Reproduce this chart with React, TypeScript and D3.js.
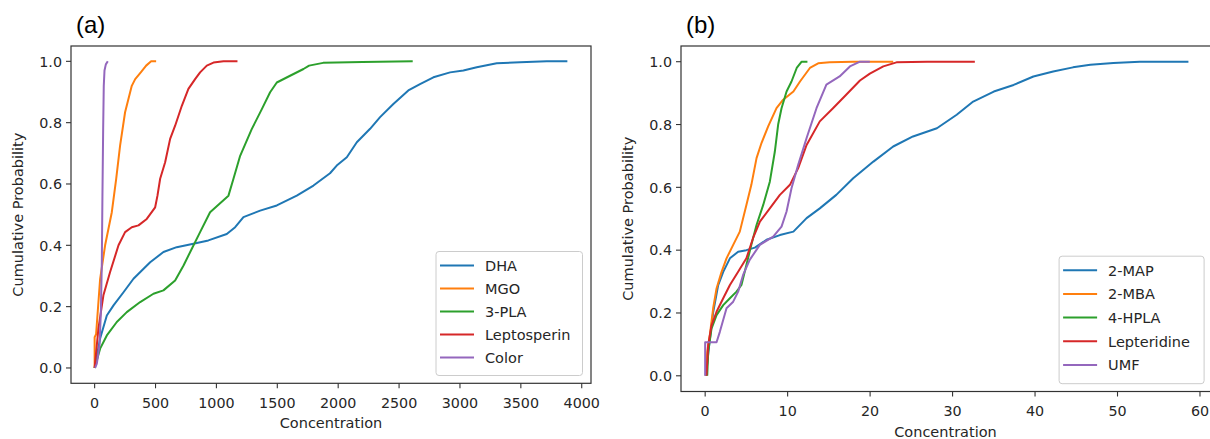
import React from "react";
import * as d3 from "d3";

type Pt = [number, number];

// Panel (a) series: [concentration, cumulative probability]
const dha: Pt[] = [[0,0],[45,0.096],[100,0.171],[155,0.204],[237,0.247],[319,0.291],[456,0.345],[565,0.378],[674,0.394],[811,0.405],[934,0.416],[1085,0.437],[1154,0.459],[1222,0.492],[1359,0.513],[1496,0.53],[1660,0.562],[1797,0.595],[1933,0.635],[1988,0.66],[2071,0.687],[2153,0.736],[2262,0.78],[2344,0.818],[2453,0.861],[2576,0.905],[2672,0.926],[2782,0.948],[2919,0.964],[3028,0.97],[3138,0.981],[3302,0.994],[3493,0.997],[3713,1.0],[3882,1.0]];
const mgo: Pt[] = [[0,0],[0,0.1],[12,0.11],[45,0.29],[86,0.40],[141,0.508],[177,0.617],[209,0.725],[250,0.834],[305,0.92],[333,0.942],[379,0.964],[423,0.986],[464,1.0],[505,1.0]];
const pla3: Pt[] = [[0,0],[45,0.063],[100,0.106],[182,0.15],[264,0.182],[374,0.215],[483,0.242],[565,0.253],[661,0.285],[730,0.334],[798,0.389],[866,0.443],[948,0.508],[1099,0.562],[1140,0.617],[1195,0.692],[1290,0.779],[1373,0.844],[1441,0.899],[1496,0.931],[1605,0.953],[1715,0.975],[1761,0.986],[1876,0.995],[2200,0.998],[2612,1.0]];
const leptosperin: Pt[] = [[0,0],[31,0.128],[72,0.237],[127,0.313],[196,0.40],[250,0.443],[305,0.459],[360,0.465],[428,0.486],[497,0.524],[516,0.562],[538,0.617],[579,0.671],[620,0.747],[661,0.79],[716,0.855],[770,0.91],[825,0.942],[866,0.964],[921,0.986],[976,0.996],[1058,1.0],[1173,1.0]];
const color: Pt[] = [[4,0],[18,0.014],[40,0.074],[51,0.18],[59,0.345],[64,0.56],[70,0.78],[75,0.92],[81,0.97],[92,0.99],[108,1.0]];

// Panel (b) series
const map2: Pt[] = [[0.08,0],[0.49,0.098],[0.97,0.202],[1.58,0.289],[2.19,0.331],[3.0,0.374],[4.0,0.395],[5.0,0.40],[6.03,0.408],[7.44,0.433],[9.06,0.448],[10.7,0.459],[12.3,0.502],[13.9,0.533],[15.9,0.576],[17.95,0.629],[20.4,0.682],[22.8,0.73],[25.2,0.762],[28.1,0.788],[30.5,0.831],[32.5,0.873],[35.0,0.905],[37.4,0.926],[39.8,0.953],[42.2,0.969],[44.6,0.982],[46.7,0.99],[49.5,0.996],[52.7,1.0],[58.6,1.0]];
const mba2: Pt[] = [[0.08,0],[0.25,0.077],[0.57,0.13],[0.97,0.215],[1.38,0.278],[1.98,0.33],[2.59,0.374],[3.4,0.417],[4.2,0.459],[5.0,0.544],[5.6,0.608],[6.23,0.693],[6.83,0.741],[7.64,0.794],[8.65,0.852],[9.46,0.879],[10.7,0.905],[11.5,0.937],[12.7,0.98],[13.7,0.995],[15.1,0.998],[17.95,1.0],[22.8,1.0]];
const hpla4: Pt[] = [[0.25,0],[0.37,0.077],[0.77,0.15],[1.38,0.193],[2.19,0.225],[3.0,0.247],[3.8,0.268],[4.4,0.289],[5.0,0.353],[5.6,0.417],[6.23,0.48],[7.04,0.544],[7.84,0.618],[8.45,0.714],[8.85,0.80],[9.26,0.852],[9.87,0.905],[10.47,0.937],[11.1,0.98],[11.7,1.0],[12.4,1.0]];
const lepteridine: Pt[] = [[0.16,0],[0.37,0.098],[0.77,0.16],[1.38,0.204],[2.19,0.247],[3.0,0.289],[4.0,0.331],[5.0,0.374],[5.8,0.438],[6.64,0.491],[7.84,0.533],[9.06,0.576],[10.28,0.608],[11.28,0.661],[12.3,0.735],[13.9,0.81],[15.5,0.852],[17.1,0.895],[18.77,0.94],[19.97,0.962],[21.6,0.985],[23.2,0.998],[26.9,1.0],[32.7,1.0]];
const umf: Pt[] = [[0,0],[0,0.107],[1.38,0.107],[1.78,0.14],[2.59,0.215],[3.4,0.236],[4.0,0.268],[4.6,0.321],[5.4,0.369],[6.63,0.417],[8.25,0.443],[9.26,0.475],[9.87,0.523],[10.47,0.597],[11.28,0.672],[12.3,0.757],[13.5,0.852],[14.7,0.927],[16.3,0.953],[17.55,0.985],[18.77,1.0],[19.97,1.0]];

const namesA = ["DHA", "MGO", "3-PLA", "Leptosperin", "Color"];
const namesB = ["2-MAP", "2-MBA", "4-HPLA", "Lepteridine", "UMF"];
const seriesA = [dha, mgo, pla3, leptosperin, color];
const seriesB = [map2, mba2, hpla4, lepteridine, umf];
const xTicksA = [0, 500, 1000, 1500, 2000, 2500, 3000, 3500, 4000];
const xTicksB = [0, 10, 20, 30, 40, 50, 60];
const yTicks = [0, 0.2, 0.4, 0.6, 0.8, 1.0];
const colors = ["#1f77b4", "#ff7f0e", "#2ca02c", "#d62728", "#9467bd"];

const TICK_FONT = "'DejaVu Sans', sans-serif";
const TEXT = "#262626";

type PanelProps = {
  tag: string;
  left: number; right: number; top: number; bottom: number;
  series: Pt[][]; names: string[]; xTicks: number[];
  legendW: number; legendRow: number;
};

function Panel({ tag, left, right, top, bottom, series, names, xTicks, legendW, legendRow }: PanelProps) {
  const all = series.flat();
  const [xmin, xmax] = d3.extent(all, (d) => d[0]) as [number, number];
  const [ymin, ymax] = d3.extent(all, (d) => d[1]) as [number, number];
  const xp = (xmax - xmin) * 0.05;
  const yp = (ymax - ymin) * 0.05;
  const x = d3.scaleLinear().domain([xmin - xp, xmax + xp]).range([left, right]);
  const y = d3.scaleLinear().domain([ymin - yp, ymax + yp]).range([bottom, top]);
  const line = d3.line<Pt>().x((d) => x(d[0])).y((d) => y(d[1]));
  const fmtY = d3.format(".1f");

  const legendH = legendRow * names.length + 9;
  const lx1 = right - 8.5 - legendW;
  const ly1 = bottom - 7.8 - legendH;

  return (
    <g>
      <text x={left + 5} y={33} fontFamily="'Liberation Sans', Arial, sans-serif" fontSize={24} fill="#000">{tag}</text>
      {series.map((s, i) => (
        <path key={i} d={line(s) || ""} fill="none" stroke={colors[i]} strokeWidth={2} strokeLinejoin="round" />
      ))}
      <rect x={left} y={top} width={right - left} height={bottom - top} fill="none" stroke="#333" strokeWidth={1.2} />
      {xTicks.map((t) => (
        <g key={"x" + t}>
          <line x1={x(t)} x2={x(t)} y1={bottom} y2={bottom + 5} stroke="#333" strokeWidth={1.1} />
          <text x={x(t)} y={bottom + 24.5} textAnchor="middle" fontFamily={TICK_FONT} fontSize={14.3} fill={TEXT}>{t}</text>
        </g>
      ))}
      {yTicks.map((t) => (
        <g key={"y" + t}>
          <line x1={left - 5} x2={left} y1={y(t)} y2={y(t)} stroke="#333" strokeWidth={1.1} />
          <text x={left - 9} y={y(t) + 5.2} textAnchor="end" fontFamily={TICK_FONT} fontSize={14.3} fill={TEXT}>{fmtY(t)}</text>
        </g>
      ))}
      <text x={(left + Math.min(right, 1210)) / 2 + (right > 1210 ? 0 : 0)} y={bottom + 45} textAnchor="middle" fontFamily={TICK_FONT} fontSize={14.5} fill={TEXT}>Concentration</text>
      <text transform={`translate(${left - 48},${(top + bottom) / 2}) rotate(-90)`} textAnchor="middle" fontFamily={TICK_FONT} fontSize={14.5} fill={TEXT}>Cumulative Probability</text>
      <rect x={lx1} y={ly1} width={legendW} height={legendH} rx={3} fill="#fff" fillOpacity={0.8} stroke="#cccccc" strokeWidth={1} />
      {names.map((n, i) => {
        const cy = ly1 + 14 + i * legendRow;
        return (
          <g key={n}>
            <line x1={lx1 + 4} x2={lx1 + 38} y1={cy} y2={cy} stroke={colors[i]} strokeWidth={2} />
            <text x={lx1 + 49} y={cy + 5.3} fontFamily={TICK_FONT} fontSize={14.5} fill={TEXT}>{n}</text>
          </g>
        );
      })}
    </g>
  );
}

export default function App() {
  return (
    <svg width={1210} height={439} style={{ position: "absolute", left: 0, top: 0, background: "#fff" }}>
      <rect x={0} y={0} width={1210} height={439} fill="#fff" />
      <Panel tag="(a)" left={71} right={591} top={46} bottom={383.3} series={seriesA} names={namesA} xTicks={xTicksA} legendW={146.5} legendRow={23} />
      <Panel tag="(b)" left={681} right={1212.6} top={46} bottom={391.5} series={seriesB} names={namesB} xTicks={xTicksB} legendW={145} legendRow={23.7} />
    </svg>
  );
}
